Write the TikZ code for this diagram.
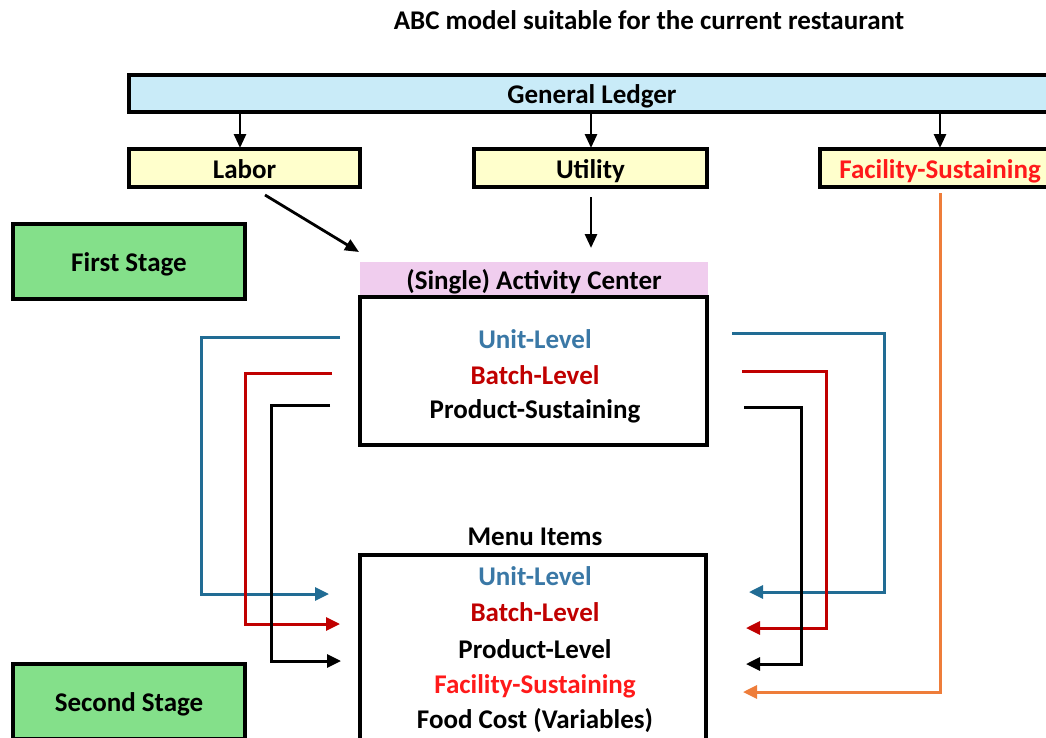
\documentclass[tikz,border=0pt]{standalone}
\usepackage{fontspec}
\setmainfont{Carlito}
\usetikzlibrary{arrows.meta}
\definecolor{ledgerfill}{HTML}{C9EBF8}
\definecolor{poolfill}{HTML}{FFFFCC}
\definecolor{stagefill}{HTML}{84E08A}
\definecolor{centerfill}{HTML}{F0CDEE}
\definecolor{unitline}{HTML}{216C94}
\definecolor{unittext}{HTML}{3A78A6}
\definecolor{batchred}{HTML}{C00000}
\definecolor{facred}{HTML}{FF1A1A}
\definecolor{facline}{HTML}{EE7D3A}
\tikzset{
  txt/.style={font=\fontsize{27}{31}\selectfont\bfseries},
  box/.style={draw=black, line width=3.4pt, inner sep=0pt, txt, text height=23.6pt, text depth=3pt},
  lbl/.style={inner sep=0pt, txt},
  conn/.style={line width=3pt, -{Triangle[length=14pt,width=13pt]}},
  flow/.style={line width=2.8pt, -{Triangle[length=14pt,width=12pt]}},
}
\begin{document}
\begin{tikzpicture}[x=1pt,y=-1pt]
\useasboundingbox (0,0) rectangle (1046,737);
\clip (0,0) rectangle (1046,737);

% title
\node[lbl] (title) at (649,20) {ABC model suitable for the current restaurant};

% resource level
\node[box, fill=ledgerfill, minimum width=926pt, minimum height=37pt] (gl) at (592,93.5) {General Ledger};
\node[box, fill=poolfill, minimum width=231pt, minimum height=38pt] (labor) at (244.5,168) {Labor};
\node[box, fill=poolfill, minimum width=233pt, minimum height=38pt] (util) at (590.5,168) {Utility};
\node[box, fill=poolfill, minimum width=240pt, minimum height=38pt, text=facred] (fac) at (940,168) {Facility-Sustaining};

\draw[flow] (240,114) -- (240,148);
\draw[flow] (591,114) -- (591,148);
\draw[flow] (940,114) -- (940,148);

% stage labels
\node[box, fill=stagefill, minimum width=232pt, minimum height=75pt] (first) at (129,261.5) {First Stage};
\node[box, fill=stagefill, minimum width=232pt, minimum height=75pt] (second) at (129,701.5) {Second Stage};

% activity center
\node[fill=centerfill, minimum width=348pt, minimum height=35pt, inner sep=0pt, txt, text height=23.6pt, text depth=3pt] (achead) at (534,279.5) {(Single) Activity Center};
\node[box, minimum width=347pt, minimum height=148pt] (acbox) at (533.5,371) {};
\node[lbl, text=unittext] (acunit) at (535,339) {Unit-Level};
\node[lbl, text=batchred] (acbatch) at (535,375) {Batch-Level};
\node[lbl] (acprod) at (535,411) {Product-Sustaining};

\draw[flow] (265,195) -- (359,252);
\draw[flow] (591,197) -- (591,248);

% menu items
\node[lbl] (menulbl) at (535,537) {Menu Items};
\node[box, minimum width=346pt, minimum height=190pt] (menubox) at (533,650) {};
\node[lbl, text=unittext] (mnunit) at (535,576) {Unit-Level};
\node[lbl, text=batchred] (mnbatch) at (535,612) {Batch-Level};
\node[lbl] (mnprod) at (535,649) {Product-Level};
\node[lbl, text=facred] (mnfac) at (535,686) {Facility-Sustaining};
\node[lbl] (mnfood) at (535,721) {Food Cost (Variables)};

% connector ends
\coordinate (lu0) at (340,337); \coordinate (lu1) at (329,594);
\coordinate (lb0) at (332,373); \coordinate (lb1) at (340,624);
\coordinate (lp0) at (330,405); \coordinate (lp1) at (341,661);
\coordinate (ru0) at (732,333); \coordinate (ru1) at (749,592);
\coordinate (rb0) at (742,371); \coordinate (rb1) at (746,628);
\coordinate (rp0) at (744,407); \coordinate (rp1) at (746,664);
\coordinate (rf0) at (940,193); \coordinate (rf1) at (743,692);

% left routes
\draw[conn, draw=unitline] (lu0) -- (201,337) |- (lu1);
\draw[conn, draw=batchred] (lb0) -- (245,373) |- (lb1);
\draw[conn, draw=black] (lp0) -- (271,405) |- (lp1);

% right routes
\draw[conn, draw=unitline] (ru0) -- (884,333) |- (ru1);
\draw[conn, draw=batchred] (rb0) -- (826,371) |- (rb1);
\draw[conn, draw=black] (rp0) -- (801,407) |- (rp1);
\draw[conn, draw=facline] (rf0) |- (rf1);
\end{tikzpicture}
\end{document}
